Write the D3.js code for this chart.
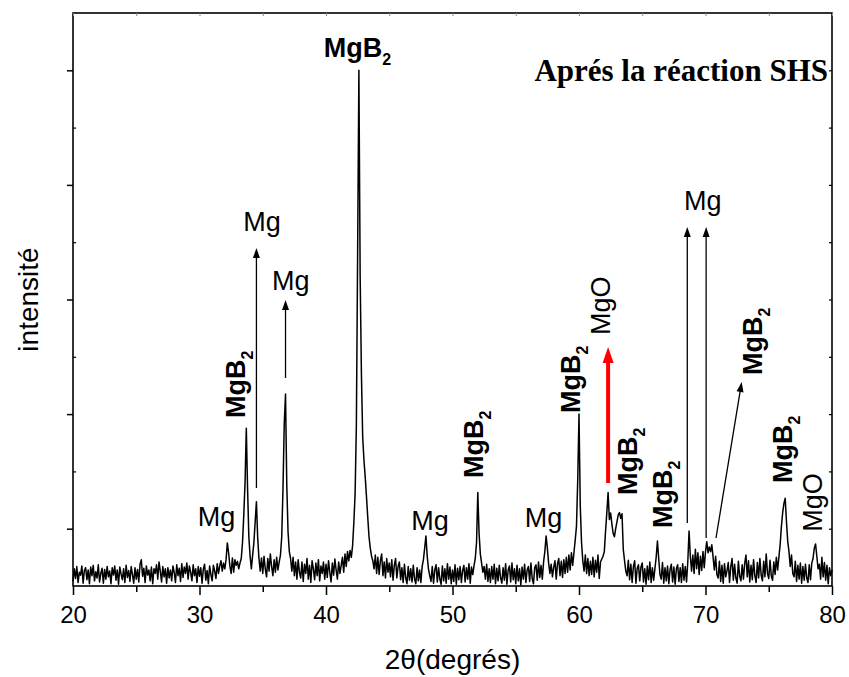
<!DOCTYPE html>
<html>
<head>
<meta charset="utf-8">
<script src="https://cdn.jsdelivr.net/npm/d3@7"></script>
<style>
  body { margin: 0; background: #fff; }
  svg { display: block; }
</style>
</head>
<body>
<svg id="chart" width="849" height="677"></svg>
<script>
// Diffraction scan: 2θ from 20° to 80°, one reading every 0.1°
const angleStart = 20;
const angleStep = 0.1;
const intensity = [
  40, 150, 65, 170, 30, 120, 95, 175, 25, 135,
  160, 55, 140, 20, 165, 90, 180, 45, 125, 70,
  185, 35, 110, 155, 25, 145, 60, 170, 80, 130,
  20, 160, 95, 175, 50, 140, 15, 165, 105, 55,
  150, 30, 180, 75, 135, 40, 170, 100, 25, 160,
  60, 145, 35, 190, 230, 85, 155, 30, 175, 95,
  140, 45, 165, 20, 150, 110, 185, 60, 210, 130,
  35, 170, 80, 150, 25, 160, 70, 140, 45, 175,
  120, 30, 185, 90, 155, 40, 195, 75, 165, 110,
  200, 60, 175, 120, 45, 185, 90, 150, 30, 170,
  85, 160, 25, 145, 190, 50, 135, 20, 175, 100,
  45, 180, 130, 65, 195, 110, 175, 220, 130, 200,
  150, 230, 376, 290, 175, 110, 245, 120, 230, 180,
  215, 150, 200, 240, 380, 620, 900, 1376, 850, 430,
  260, 150, 270, 380, 560, 736, 420, 240, 130, 245,
  110, 260, 150, 80, 240, 130, 280, 170, 90, 230,
  120, 250, 140, 210, 270, 430, 850, 1420, 1675, 880,
  470, 300, 240, 130, 250, 90, 210, 60, 230, 120,
  70, 210, 40, 190, 110, 240, 60, 180, 30, 220,
  150, 55, 200, 90, 230, 45, 175, 110, 210, 60,
  190, 75, 220, 120, 35, 200, 95, 235, 140, 60,
  210, 110, 180, 250, 120, 280, 170, 300, 220, 310,
  250, 350, 550, 800, 1400, 2900, 4500, 2700, 1850, 1300,
  1100, 950, 780, 600, 430, 330, 260, 220, 150, 270,
  110, 250, 100, 220, 280, 90, 210, 70, 240, 120,
  200, 80, 230, 50, 180, 240, 70, 170, 210, 55,
  160, 30, 190, 70, 20, 170, 50, 150, 35, 180,
  60, 20, 160, 45, 140, 30, 170, 230, 330, 437,
  260, 150, 90, 40, 170, 25, 140, 185, 35, 160,
  60, 15, 175, 45, 150, 25, 195, 60, 165, 20,
  140, 40, 185, 15, 155, 55, 170, 30, 135, 180,
  35, 160, 60, 195, 25, 165, 100, 175, 240, 380,
  815, 460, 280, 200, 120, 170, 60, 190, 40, 150,
  30, 170, 60, 190, 20, 155, 45, 180, 70, 25,
  160, 50, 195, 15, 140, 175, 35, 200, 55, 150,
  20, 180, 45, 150, 10, 165, 60, 190, 30, 140,
  170, 40, 200, 65, 20, 160, 185, 50, 210, 75,
  180, 60, 210, 300, 437, 330, 200, 110, 190, 80,
  165, 220, 60, 195, 240, 90, 215, 75, 230, 110,
  250, 120, 270, 140, 290, 180, 290, 400, 520, 930,
  1500, 700, 380, 220, 130, 270, 110, 240, 90, 215,
  100, 250, 80, 225, 120, 270, 65, 210, 235, 260,
  300, 480, 640, 815, 580, 637, 540, 460, 430, 500,
  560, 620, 640, 590, 630, 320, 220, 130, 90, 225,
  55, 190, 30, 170, 220, 25, 155, 185, 45, 165,
  200, 35, 150, 15, 175, 55, 210, 30, 160, 50,
  150, 250, 393, 240, 100, 60, 205, 25, 160, 45,
  175, 20, 145, 190, 35, 165, 15, 150, 185, 40,
  160, 30, 195, 50, 170, 35, 210, 480, 260, 130,
  270, 110, 320, 150, 290, 100, 260, 135, 300, 160,
  300, 387, 290, 340, 300, 360, 250, 140, 260, 100,
  70, 215, 40, 180, 25, 195, 80, 135, 205, 30,
  170, 240, 50, 190, 70, 25, 215, 85, 45, 185,
  60, 200, 270, 80, 220, 35, 180, 55, 230, 90,
  30, 205, 70, 240, 95, 45, 215, 80, 280, 110,
  65, 225, 90, 50, 210, 100, 250, 140, 250, 360,
  520, 640, 720, 766, 560, 390, 300, 170, 270, 110,
  80, 215, 40, 180, 60, 200, 25, 170, 50, 190,
  70, 30, 185, 55, 200, 240, 330, 367, 260, 150,
  190, 60, 250, 80, 205, 50, 180, 20, 160, 90,
  140
];

// Axis ticks
const xMajorTicks = [20, 30, 40, 50, 60, 70, 80];
const xMinorTicks = [25, 35, 45, 55, 65, 75];
const yMajorTicks = [500, 1500, 2500, 3500, 4500];
const yMinorTicks = [1000, 2000, 3000, 4000];

// Phase labels written horizontally (centre in 2θ, baseline in counts)
const flatLabels = [
  { main: "Mg", sub: "", bold: false, at: 31.34, level: 524 },
  { main: "Mg", sub: "", bold: false, at: 34.94, level: 3098 },
  { main: "Mg", sub: "", bold: false, at: 37.22, level: 2583 },
  { main: "MgB", sub: "2", bold: true, at: 42.49, level: 4619 },
  { main: "Mg", sub: "", bold: false, at: 48.22, level: 489 },
  { main: "Mg", sub: "", bold: false, at: 57.19, level: 517 },
  { main: "Mg", sub: "", bold: false, at: 69.79, level: 3281 }
];

// Phase labels written bottom-to-top (baseline in 2θ, start in counts)
const uprightLabels = [
  { main: "MgB", sub: "2", bold: true, at: 33.6, level: 1466 },
  { main: "MgB", sub: "2", bold: true, at: 52.41, level: 942 },
  { main: "MgB", sub: "2", bold: true, at: 60.08, level: 1510 },
  { main: "MgO", sub: "", bold: false, at: 62.45, level: 2190 },
  { main: "MgB", sub: "2", bold: true, at: 64.58, level: 794 },
  { main: "MgB", sub: "2", bold: true, at: 67.33, level: 506 },
  { main: "MgB", sub: "2", bold: true, at: 74.44, level: 1841 },
  { main: "MgB", sub: "2", bold: true, at: 76.82, level: 899 },
  { main: "MgO", sub: "", bold: false, at: 79.21, level: 474 }
];

// Pointer arrows from peaks to their labels
const arrowStart = [[34.5, 855], [36.8, 1815], [62.3, 899], [68.56, 550], [70.05, 419], [70.83, 419]];
const arrowEnd   = [[34.5, 2949], [36.8, 2496], [62.3, 2086], [68.56, 3133], [70.05, 3133], [72.86, 1780]];
const arrowColor = ["#000", "#000", "#ff0000", "#000", "#000", "#000"];

const scan = intensity.map((v, i) => ({ angle: angleStart + i * angleStep, value: v }));

const svg = d3.select("#chart");
const plotLeft = 73, plotRight = 832, plotTop = 13, plotBottom = 586;

const x = d3.scaleLinear().domain([20, 80]).range([plotLeft, plotRight]);
const y = d3.scaleLinear().domain([0, 5000]).range([plotBottom, plotTop]);

const sans = "'Liberation Sans', Arial, Helvetica, sans-serif";

// Pattern trace
svg.append("path")
  .datum(scan)
  .attr("fill", "none")
  .attr("stroke", "#000")
  .attr("stroke-width", 1.5)
  .attr("stroke-linejoin", "round")
  .attr("d", d3.line().x(d => x(d.angle)).y(d => y(d.value)));

// Frame
svg.append("rect")
  .attr("x", plotLeft).attr("y", plotTop)
  .attr("width", plotRight - plotLeft).attr("height", plotBottom - plotTop)
  .attr("fill", "none").attr("stroke", "#000").attr("stroke-width", 1.6);

// Bottom axis
const xAxis = svg.append("g").attr("transform", `translate(0,${plotBottom})`)
  .call(d3.axisBottom(x).tickValues(xMajorTicks).tickSize(9).tickFormat(d3.format("d")));
xAxis.select(".domain").remove();
xAxis.selectAll("line").attr("stroke-width", 1.5);
xAxis.selectAll("text").attr("font-family", sans).attr("font-size", 24).attr("dy", "1.05em");
svg.append("g").attr("transform", `translate(0,${plotBottom})`)
  .call(d3.axisBottom(x).tickValues(xMinorTicks).tickSize(6).tickFormat(""))
  .call(g => g.select(".domain").remove())
  .selectAll("line").attr("stroke-width", 1.5);

// Top axis: short inner ticks
svg.append("g").attr("transform", `translate(0,${plotTop})`)
  .call(d3.axisBottom(x).tickValues(xMajorTicks.concat(xMinorTicks)).tickSize(3).tickFormat(""))
  .call(g => g.select(".domain").remove())
  .selectAll("line").attr("stroke", "#888");

// Left axis: outer major ticks, inner minor ticks, no labels
svg.append("g").attr("transform", `translate(${plotLeft},0)`)
  .call(d3.axisLeft(y).tickValues(yMajorTicks).tickSize(6).tickFormat(""))
  .call(g => g.select(".domain").remove())
  .selectAll("line").attr("stroke-width", 1.5);
svg.append("g").attr("transform", `translate(${plotLeft},0)`)
  .call(d3.axisRight(y).tickValues(yMinorTicks).tickSize(3).tickFormat(""))
  .call(g => g.select(".domain").remove())
  .selectAll("line").attr("stroke-width", 1.2);

// Right axis: short inner ticks
svg.append("g").attr("transform", `translate(${plotRight},0)`)
  .call(d3.axisLeft(y).tickValues(yMajorTicks.concat(yMinorTicks)).tickSize(3).tickFormat(""))
  .call(g => g.select(".domain").remove())
  .selectAll("line").attr("stroke-width", 1.2);

// Axis titles
svg.append("text")
  .attr("x", (plotLeft + plotRight) / 2).attr("y", 669)
  .attr("text-anchor", "middle")
  .attr("font-family", sans).attr("font-size", 28)
  .text("2θ(degrés)");

svg.append("text")
  .attr("transform", `translate(38,${(plotTop + plotBottom) / 2}) rotate(-90)`)
  .attr("text-anchor", "middle")
  .attr("font-family", sans).attr("font-size", 28)
  .text("intensité");

// Sample caption
svg.append("text")
  .attr("x", 828).attr("y", 81)
  .attr("text-anchor", "end")
  .attr("font-family", "'Liberation Serif', 'Times New Roman', serif")
  .attr("font-weight", "bold").attr("font-size", 31)
  .text("Aprés la réaction SHS");

// Arrows
const arrowLayer = svg.append("g");
arrowStart.forEach((s, i) => {
  const x1 = x(s[0]), y1 = y(s[1]);
  const x2 = x(arrowEnd[i][0]), y2 = y(arrowEnd[i][1]);
  const red = arrowColor[i] !== "#000";
  const headLen = red ? 16 : 10, headHalf = red ? 5.5 : 3.5, shaft = red ? 4 : 1.3;
  const len = Math.hypot(x2 - x1, y2 - y1);
  const ux = (x2 - x1) / len, uy = (y2 - y1) / len;
  const bx = x2 - ux * headLen, by = y2 - uy * headLen;
  arrowLayer.append("line")
    .attr("x1", x1).attr("y1", y1).attr("x2", bx + ux * 1).attr("y2", by + uy * 1)
    .attr("stroke", arrowColor[i]).attr("stroke-width", shaft);
  arrowLayer.append("polygon")
    .attr("points", [[x2, y2], [bx - uy * headHalf, by + ux * headHalf], [bx + uy * headHalf, by - ux * headHalf]].map(p => p.join(",")).join(" "))
    .attr("fill", arrowColor[i]);
});

// Labels
function addLabel(sel, d) {
  const t = sel.append("text")
    .attr("font-family", sans).attr("font-size", 27)
    .attr("font-weight", d.bold ? "bold" : "normal");
  t.append("tspan").text(d.main);
  if (d.sub) t.append("tspan").attr("font-size", 16).attr("dy", 8).text(d.sub);
  return t;
}
flatLabels.forEach(d => {
  addLabel(svg, d)
    .attr("x", x(d.at)).attr("y", y(d.level))
    .attr("text-anchor", "middle");
});
uprightLabels.forEach(d => {
  addLabel(svg, d)
    .attr("transform", `translate(${x(d.at)},${y(d.level)}) rotate(-90)`);
});
</script>
</body>
</html>
